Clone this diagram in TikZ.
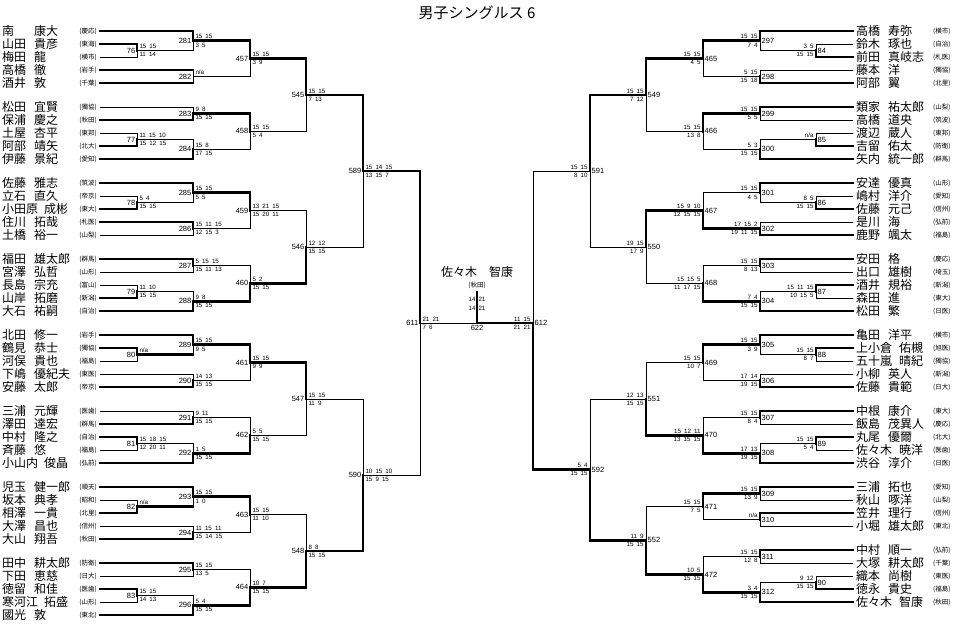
\documentclass[tikz,border=0pt]{standalone}
\usepackage{fontspec}
\setmainfont{Noto Sans CJK JP}
\newfontfamily\numf[WordSpace=1.8]{Liberation Sans}
\begin{document}
\begin{tikzpicture}[x=1pt,y=-1pt,
  W/.style={line width=2.8pt,line cap=rect},
  L/.style={line width=0.8pt},
  nm/.style={font=\fontsize{12}{12}\selectfont,inner sep=0pt,anchor=west},
  sc/.style={font=\fontsize{6.5}{6.5}\selectfont,inner sep=0pt},
  num/.style={font=\numf\fontsize{7.5}{8}\selectfont,inner sep=0.5pt},
  sco/.style={font=\numf\fontsize{6.2}{6.2}\selectfont,inner sep=0.3pt}]
\useasboundingbox (0,0) rectangle (965,629);
\newcommand\sg[5]{\draw[#5] (#1,#3) -- (#2,#3) -- (#2,#4);}
\newcommand\sgN[4]{\draw[W] (#1,#3) -- (#2,#3); \draw[L] (#2,#3) -- (#2,#4);}
\newcommand\ml[5]{\node[num,anchor=east] at (#1-1,#2) {#3};
  \node[sco,anchor=south west] at (#1+2,#2-1.2) {#4};
  \node[sco,anchor=north west] at (#1+2,#2+1.5) {#5};}
\newcommand\mr[5]{\node[num,anchor=west] at (#1+1,#2) {#3};
  \node[sco,anchor=south east] at (#1-2,#2-1.2) {#4};
  \node[sco,anchor=north east] at (#1-2,#2+1.5) {#5};}
\newcommand\PL[5]{\node[nm] (a) at (2,#1) {#2}; \node[nm] (b) at (#5,#1) {#3};
  \node[sc,anchor=east] (c) at (97,#1) {(#4)};}
\newcommand\PR[5]{\node[nm] (a) at (856,#1) {#2}; \node[nm] (b) at (#5,#1) {#3};
  \node[sc,anchor=west] (c) at (933,#1) {(#4)};}

\node[font=\fontsize{15}{15}\selectfont] (title) at (477,13) {男子シングルス\ 6};

% ---------------- LEFT ----------------
\PL{31}{南}{康大}{慶応}{34}\PL{44}{山田}{貴彦}{東海}{34}\PL{57}{梅田}{龍}{横市}{34}\PL{70}{高橋}{徹}{岩手}{34}\PL{83}{酒井}{敦}{千葉}{34}
\PL{107}{松田}{宜賢}{獨協}{34}\PL{120}{保浦}{慶之}{秋田}{34}\PL{133}{土屋}{杏平}{東邦}{34}\PL{146}{阿部}{靖矢}{北大}{34}\PL{159}{伊藤}{景紀}{愛知}{34}
\PL{183}{佐藤}{雅志}{筑波}{34}\PL{196}{立石}{直久}{帝京}{34}\PL{209}{小田原}{成彬}{東大}{44}\PL{222}{住川}{拓哉}{札医}{34}\PL{235}{土橋}{裕一}{山梨}{34}
\PL{259}{福田}{雄太郎}{群馬}{34}\PL{272}{宮澤}{弘哲}{山形}{34}\PL{285}{長島}{宗充}{富山}{34}\PL{298}{山岸}{拓磨}{新潟}{34}\PL{311}{大石}{祐嗣}{自治}{34}
\PL{335}{北田}{修一}{岩手}{34}\PL{348}{鶴見}{恭士}{獨協}{34}\PL{361}{河俣}{貴也}{福島}{34}\PL{374}{下嶋}{優紀夫}{東医}{34}\PL{387}{安藤}{太郎}{帝京}{34}
\PL{411}{三浦}{元輝}{医歯}{34}\PL{424}{澤田}{達宏}{群馬}{34}\PL{437}{中村}{隆之}{自治}{34}\PL{450}{斉藤}{悠}{福島}{34}\PL{463}{小山内}{俊晶}{弘前}{44}
\PL{487}{児玉}{健一郎}{順天}{34}\PL{500}{坂本}{典孝}{昭和}{34}\PL{513}{相澤}{一貴}{北里}{34}\PL{526}{大澤}{昌也}{信州}{34}\PL{539}{大山}{翔吾}{秋田}{34}
\PL{563}{田中}{耕太郎}{防衛}{34}\PL{576}{下田}{恵慈}{日大}{34}\PL{589}{徳留}{和佳}{医歯}{34}\PL{602}{寒河江}{拓盛}{山形}{44}\PL{615}{國光}{敦}{東北}{34}

% B1
\sg{100}{137}{44}{50.5}{W}\sg{100}{137}{57}{50.5}{L}
\sg{100}{193}{31}{40.75}{W}\sg{137}{193}{50.5}{40.75}{L}
\sgN{100}{193}{70}{76.5}\sgN{100}{193}{83}{76.5}
\sg{193}{250}{40.75}{58.625}{W}\sg{193}{250}{76.5}{58.625}{L}
\sg{250}{306}{58.625}{95}{W}
\ml{137}{50.5}{76}{15 15}{11 14}\ml{193}{40.75}{281}{15 15}{3 5}\ml{193}{76.5}{282}{n/a}{}\ml{250}{58.625}{457}{15 15}{3 9}
% B2
\sg{100}{193}{107}{113.5}{L}\sg{100}{193}{120}{113.5}{W}
\sg{100}{137}{133}{139.5}{L}\sg{100}{137}{146}{139.5}{W}
\sg{137}{193}{139.5}{149.25}{L}\sg{100}{193}{159}{149.25}{W}
\sg{193}{250}{113.5}{131.375}{W}\sg{193}{250}{149.25}{131.375}{L}
\sg{250}{306}{131.375}{95}{L}
\ml{193}{113.5}{283}{9 8}{15 15}\ml{137}{139.5}{77}{11 15 10}{15 12 15}\ml{193}{149.25}{284}{15 8}{17 15}\ml{250}{131.375}{458}{15 15}{5 4}
\sg{306}{363}{95}{171}{W}\ml{306}{95}{545}{15 15}{7 13}
% B3
\sg{100}{137}{196}{202.5}{L}\sg{100}{137}{209}{202.5}{W}
\sg{100}{193}{183}{192.75}{W}\sg{137}{193}{202.5}{192.75}{L}
\sg{100}{193}{222}{228.5}{W}\sg{100}{193}{235}{228.5}{L}
\sg{193}{250}{192.75}{210.625}{W}\sg{193}{250}{228.5}{210.625}{L}
\sg{250}{306}{210.625}{247}{L}
\ml{137}{202.5}{78}{5 4}{15 15}\ml{193}{192.75}{285}{15 15}{5 5}\ml{193}{228.5}{286}{15 11 15}{12 15 3}\ml{250}{210.625}{459}{13 21 15}{15 20 11}
% B4
\sg{100}{193}{259}{265.5}{W}\sg{100}{193}{272}{265.5}{L}
\sg{100}{137}{285}{291.5}{L}\sg{100}{137}{298}{291.5}{W}
\sg{137}{193}{291.5}{301.25}{L}\sg{100}{193}{311}{301.25}{W}
\sg{193}{250}{265.5}{283.375}{L}\sg{193}{250}{301.25}{283.375}{W}
\sg{250}{306}{283.375}{247}{W}
\ml{193}{265.5}{287}{5 15 15}{15 11 13}\ml{137}{291.5}{79}{11 10}{15 15}\ml{193}{301.25}{288}{9 8}{15 15}\ml{250}{283.375}{460}{5 2}{15 15}
\sg{306}{363}{247}{171}{L}\ml{306}{247}{546}{12 12}{15 15}
\sg{363}{420}{171}{323}{W}\ml{363}{171}{589}{15 14 15}{13 15 7}
% B5
\sg{100}{137}{348}{354.5}{W}\sg{100}{137}{361}{354.5}{L}
\sg{100}{193}{335}{344.75}{W}\sgN{137}{193}{354.5}{344.75}
\sg{100}{193}{374}{380.5}{L}\sg{100}{193}{387}{380.5}{W}
\sg{193}{250}{344.75}{362.625}{W}\sg{193}{250}{380.5}{362.625}{L}
\sg{250}{306}{362.625}{399}{W}
\ml{137}{354.5}{80}{n/a}{}\ml{193}{344.75}{289}{15 15}{9 5}\ml{193}{380.5}{290}{14 13}{15 15}\ml{250}{362.625}{461}{15 15}{9 9}
% B6
\sg{100}{193}{411}{417.5}{L}\sg{100}{193}{424}{417.5}{W}
\sg{100}{137}{437}{443.5}{W}\sg{100}{137}{450}{443.5}{L}
\sg{137}{193}{443.5}{453.25}{L}\sg{100}{193}{463}{453.25}{W}
\sg{193}{250}{417.5}{435.375}{L}\sg{193}{250}{453.25}{435.375}{W}
\sg{250}{306}{435.375}{399}{L}
\ml{193}{417.5}{291}{9 11}{15 15}\ml{137}{443.5}{81}{15 18 15}{12 20 11}\ml{193}{453.25}{292}{1 5}{15 15}\ml{250}{435.375}{462}{5 5}{15 15}
\sg{306}{363}{399}{475}{L}\ml{306}{399}{547}{15 15}{11 9}
% B7
\sg{100}{137}{500}{506.5}{L}\sg{100}{137}{513}{506.5}{W}
\sg{100}{193}{487}{496.75}{W}\sgN{137}{193}{506.5}{496.75}
\sg{100}{193}{526}{532.5}{L}\sg{100}{193}{539}{532.5}{W}
\sg{193}{250}{496.75}{514.625}{W}\sg{193}{250}{532.5}{514.625}{L}
\sg{250}{306}{514.625}{551}{L}
\ml{137}{506.5}{82}{n/a}{}\ml{193}{496.75}{293}{15 15}{1 0}\ml{193}{532.5}{294}{11 15 11}{15 14 15}\ml{250}{514.625}{463}{15 15}{11 10}
% B8
\sg{100}{193}{563}{569.5}{W}\sg{100}{193}{576}{569.5}{L}
\sg{100}{137}{589}{595.5}{W}\sg{100}{137}{602}{595.5}{L}
\sg{137}{193}{595.5}{605.25}{L}\sg{100}{193}{615}{605.25}{W}
\sg{193}{250}{569.5}{587.375}{L}\sg{193}{250}{605.25}{587.375}{W}
\sg{250}{306}{587.375}{551}{W}
\ml{193}{569.5}{295}{15 15}{13 5}\ml{137}{595.5}{83}{15 15}{14 13}\ml{193}{605.25}{296}{5 4}{15 15}\ml{250}{587.375}{464}{10 7}{15 15}
\sg{306}{363}{551}{475}{W}\ml{306}{551}{548}{8 8}{15 15}
\sg{363}{420}{475}{323}{L}\ml{363}{475}{590}{10 15 10}{15 9 15}
\sg{420}{477}{323}{323}{L}\ml{420}{323}{611}{21 21}{7 6}

% ---------------- RIGHT ----------------
\PR{31}{高橋}{寿弥}{横市}{888}\PR{44}{鈴木}{琢也}{自治}{888}\PR{57}{前田}{真岐志}{札医}{888}\PR{70}{藤本}{洋}{獨協}{888}\PR{83}{阿部}{翼}{北里}{888}
\PR{107}{類家}{祐太郎}{山梨}{888}\PR{120}{高橋}{道央}{筑波}{888}\PR{133}{渡辺}{蔵人}{東邦}{888}\PR{146}{吉留}{佑太}{防衛}{888}\PR{159}{矢内}{統一郎}{群馬}{888}
\PR{183}{安達}{優真}{山形}{888}\PR{196}{嶋村}{洋介}{愛知}{888}\PR{209}{佐藤}{元己}{信州}{888}\PR{222}{是川}{海}{弘前}{888}\PR{235}{鹿野}{颯太}{福島}{888}
\PR{259}{安田}{格}{慶応}{888}\PR{272}{出口}{雄樹}{埼玉}{888}\PR{285}{酒井}{規裕}{新潟}{888}\PR{298}{森田}{進}{東大}{888}\PR{311}{松田}{繁}{日医}{888}
\PR{335}{亀田}{洋平}{横市}{888}\PR{348}{上小倉}{佑槻}{旭医}{899}\PR{361}{五十嵐}{晴紀}{獨協}{899}\PR{374}{小柳}{英人}{新潟}{888}\PR{387}{佐藤}{貴範}{日大}{888}
\PR{411}{中根}{康介}{東大}{888}\PR{424}{飯島}{茂異人}{慶応}{888}\PR{437}{丸尾}{優爾}{北大}{888}\PR{450}{佐々木}{暁洋}{医歯}{899}\PR{463}{渋谷}{淳介}{日医}{888}
\PR{487}{三浦}{拓也}{愛知}{888}\PR{500}{秋山}{啄洋}{山梨}{888}\PR{513}{笠井}{理行}{信州}{888}\PR{526}{小堀}{雄太郎}{東北}{888}
\PR{550}{中村}{順一}{弘前}{888}\PR{563}{大塚}{耕太郎}{千葉}{888}\PR{576}{織本}{尚樹}{東医}{888}\PR{589}{徳永}{貴史}{福島}{888}\PR{602}{佐々木}{智康}{秋田}{899}

% B1
\sg{853}{816}{44}{50.5}{L}\sg{853}{816}{57}{50.5}{W}
\sg{853}{760}{31}{40.75}{W}\sg{816}{760}{50.5}{40.75}{L}
\sg{853}{760}{70}{76.5}{L}\sg{853}{760}{83}{76.5}{W}
\sg{760}{703}{40.75}{58.625}{W}\sg{760}{703}{76.5}{58.625}{L}
\sg{703}{646}{58.625}{95}{W}
\mr{816}{50.5}{84}{3 5}{15 15}\mr{760}{40.75}{297}{15 15}{7 4}\mr{760}{76.5}{298}{5 15}{15 18}\mr{703}{58.625}{465}{15 15}{4 5}
% B2
\sg{853}{760}{107}{113.5}{W}\sg{853}{760}{120}{113.5}{L}
\sg{853}{816}{133}{139.5}{L}\sg{853}{816}{146}{139.5}{W}
\sg{816}{760}{139.5}{149.25}{L}\sg{853}{760}{159}{149.25}{W}
\sg{760}{703}{113.5}{131.375}{W}\sg{760}{703}{149.25}{131.375}{L}
\sg{703}{646}{131.375}{95}{L}
\mr{760}{113.5}{299}{15 15}{5 5}\mr{816}{139.5}{85}{n/a}{}\mr{760}{149.25}{300}{5 3}{15 15}\mr{703}{131.375}{466}{15 15}{13 8}
\sg{646}{590}{95}{171}{W}\mr{646}{95}{549}{15 15}{7 12}
% B3
\sg{853}{816}{196}{202.5}{L}\sg{853}{816}{209}{202.5}{W}
\sg{853}{760}{183}{192.75}{W}\sg{816}{760}{202.5}{192.75}{L}
\sg{853}{760}{222}{228.5}{L}\sg{853}{760}{235}{228.5}{W}
\sg{760}{703}{192.75}{210.625}{L}\sg{760}{703}{228.5}{210.625}{W}
\sg{703}{646}{210.625}{247}{W}
\mr{816}{202.5}{86}{8 5}{15 15}\mr{760}{192.75}{301}{15 15}{4 5}\mr{760}{228.5}{302}{17 15 2}{19 11 15}\mr{703}{210.625}{467}{15 9 10}{12 15 15}
% B4
\sg{853}{760}{259}{265.5}{W}\sg{853}{760}{272}{265.5}{L}
\sg{853}{816}{285}{291.5}{W}\sg{853}{816}{298}{291.5}{L}
\sg{816}{760}{291.5}{301.25}{L}\sg{853}{760}{311}{301.25}{W}
\sg{760}{703}{265.5}{283.375}{L}\sg{760}{703}{301.25}{283.375}{W}
\sg{703}{646}{283.375}{247}{L}
\mr{760}{265.5}{303}{15 15}{8 13}\mr{816}{291.5}{87}{15 11 15}{10 15 5}\mr{760}{301.25}{304}{7 4}{15 15}\mr{703}{283.375}{468}{15 15 5}{11 17 15}
\sg{646}{590}{247}{171}{L}\mr{646}{247}{550}{19 15}{17 9}
\sg{590}{533}{171}{323}{L}\mr{590}{171}{591}{15 15}{8 10}
% B5
\sg{853}{816}{348}{354.5}{W}\sg{853}{816}{361}{354.5}{L}
\sg{853}{760}{335}{344.75}{W}\sg{816}{760}{354.5}{344.75}{L}
\sg{853}{760}{374}{380.5}{L}\sg{853}{760}{387}{380.5}{W}
\sg{760}{703}{344.75}{362.625}{W}\sg{760}{703}{380.5}{362.625}{L}
\sg{703}{646}{362.625}{399}{L}
\mr{816}{354.5}{88}{15 15}{8 7}\mr{760}{344.75}{305}{15 15}{3 9}\mr{760}{380.5}{306}{17 14}{19 15}\mr{703}{362.625}{469}{15 15}{10 7}
% B6
\sg{853}{760}{411}{417.5}{W}\sg{853}{760}{424}{417.5}{L}
\sg{853}{816}{437}{443.5}{W}\sg{853}{816}{450}{443.5}{L}
\sg{816}{760}{443.5}{453.25}{L}\sg{853}{760}{463}{453.25}{W}
\sg{760}{703}{417.5}{435.375}{L}\sg{760}{703}{453.25}{435.375}{W}
\sg{703}{646}{435.375}{399}{W}
\mr{760}{417.5}{307}{15 15}{8 4}\mr{816}{443.5}{89}{15 15}{5 4}\mr{760}{453.25}{308}{17 13}{19 15}\mr{703}{435.375}{470}{15 12 11}{13 15 15}
\sg{646}{590}{399}{469.7}{L}\mr{646}{399}{551}{12 13}{15 15}
% B7
\sg{853}{760}{487}{493.5}{W}\sg{853}{760}{500}{493.5}{L}
\sg{853}{760}{513}{519.5}{W}\sg{853}{760}{526}{519.5}{L}
\sg{760}{703}{493.5}{506.5}{W}\sg{760}{703}{519.5}{506.5}{L}
\sg{703}{646}{506.5}{540.4}{L}
\mr{760}{493.5}{309}{15 15}{13 9}\mr{760}{519.5}{310}{n/a}{}\mr{703}{506.5}{471}{15 15}{7 5}
% B8
\sg{853}{760}{550}{556.5}{W}\sg{853}{760}{563}{556.5}{L}
\sg{853}{816}{576}{582.5}{L}\sg{853}{816}{589}{582.5}{W}
\sg{816}{760}{582.5}{592.25}{L}\sg{853}{760}{602}{592.25}{W}
\sg{760}{703}{556.5}{574.375}{L}\sg{760}{703}{592.25}{574.375}{W}
\sg{703}{646}{574.375}{540.4}{W}
\mr{760}{556.5}{311}{15 15}{12 8}\mr{816}{582.5}{90}{9 12}{15 15}\mr{760}{592.25}{312}{3 4}{15 15}\mr{703}{574.375}{472}{10 5}{15 15}
\sg{646}{590}{540.4}{469.7}{W}\mr{646}{540.4}{552}{11 9}{15 15}
\sg{590}{533}{469.7}{323}{W}\mr{590}{469.7}{592}{5 4}{15 15}
\sg{533}{477}{323}{323}{W}\mr{533}{323}{612}{11 15}{21 21}

% ---------------- FINAL ----------------
\draw[W] (477,323) -- (477,292);
\node[num,anchor=north] (f) at (477,325) {622};
\node[sco,anchor=east] at (476,299) {14};\node[sco,anchor=west] at (478,299) {21};
\node[sco,anchor=east] at (476,308) {14};\node[sco,anchor=west] at (478,308) {21};
\node[font=\fontsize{12}{12}\selectfont] (champ) at (477,272) {佐々木\quad 智康};
\node[sc] (champs) at (477,285) {(秋田)};
\end{tikzpicture}
\end{document}
